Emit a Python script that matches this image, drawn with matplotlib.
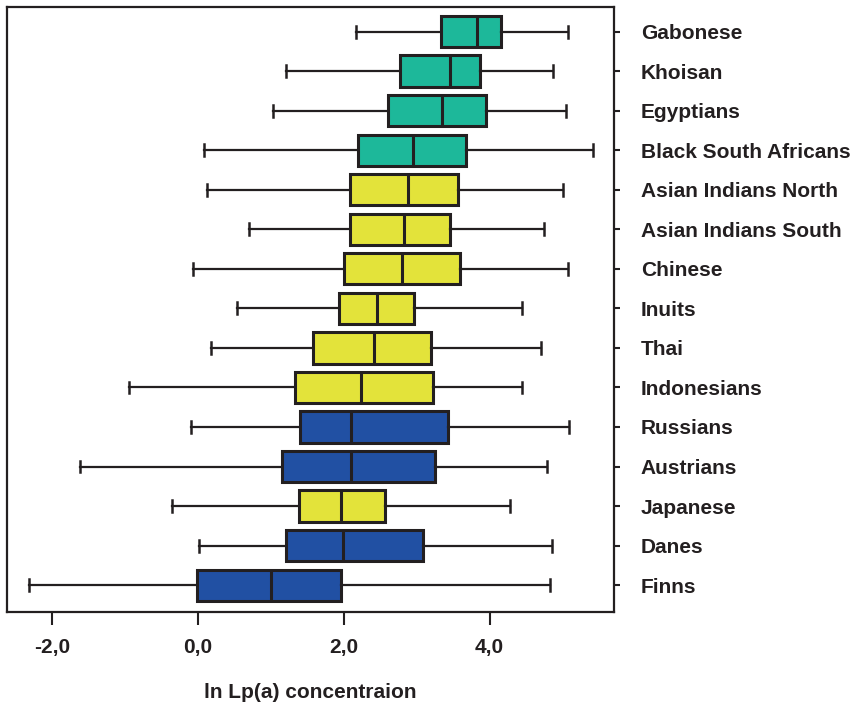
import matplotlib
matplotlib.use("Agg")
import matplotlib.pyplot as plt

plt.rcParams["font.family"] = ["Liberation Sans", "DejaVu Sans"]
plt.rcParams["font.weight"] = "bold"

# bottom to top
groups = ["Finns", "Danes", "Japanese", "Austrians", "Russians", "Indonesians",
          "Thai", "Inuits", "Chinese", "Asian Indians South", "Asian Indians North",
          "Black South Africans", "Egyptians", "Khoisan", "Gabonese"]
whislo = [-2.31, 0.01, -0.36, -1.61, -0.10, -0.94, 0.18, 0.54, -0.06, 0.70, 0.13, 0.09, 1.03, 1.21, 2.17]
q1 = [-0.01, 1.21, 1.39, 1.15, 1.40, 1.33, 1.58, 1.94, 2.00, 2.09, 2.08, 2.20, 2.60, 2.77, 3.33]
med = [1.00, 1.99, 1.96, 2.10, 2.10, 2.23, 2.41, 2.45, 2.80, 2.83, 2.88, 2.95, 3.34, 3.46, 3.83]
q3 = [1.96, 3.09, 2.57, 3.25, 3.43, 3.22, 3.20, 2.96, 3.60, 3.45, 3.56, 3.67, 3.95, 3.87, 4.15]
whishi = [4.83, 4.86, 4.28, 4.78, 5.09, 4.44, 4.70, 4.44, 5.08, 4.75, 5.01, 5.41, 5.05, 4.87, 5.08]
region = ["eu", "eu", "as", "eu", "eu", "as", "as", "as", "as", "as", "as", "af", "af", "af", "af"]

colors = {"eu": "#2150a3", "as": "#e3e33a", "af": "#1db89a"}
dark = "#231f20"

stats = [dict(whislo=a, q1=b, med=c, q3=d, whishi=e, fliers=[])
         for a, b, c, d, e in zip(whislo, q1, med, q3, whishi)]

fig = plt.figure(figsize=(8.57, 7.06), dpi=100)
ax = fig.add_axes([0.0078, 0.1331, 0.7083, 0.8569])

bp = ax.bxp(stats, positions=range(len(groups)), vert=False, widths=0.79,
            patch_artist=True, capwidths=0.30,
            boxprops=dict(edgecolor=dark, linewidth=2.2),
            medianprops=dict(color=dark, linewidth=2.2),
            whiskerprops=dict(color=dark, linewidth=1.6),
            capprops=dict(color=dark, linewidth=1.8))
for box, r in zip(bp["boxes"], region):
    box.set_facecolor(colors[r])

ax.set_xlim(-2.62, 5.70)
ax.set_ylim(-0.68, 14.62)
ax.set_xticks([-2, 0, 2, 4])
ax.set_xticklabels(["-2,0", "0,0", "2,0", "4,0"])
ax.set_yticks(range(len(groups)))
ax.set_yticklabels(groups)
ax.yaxis.tick_right()
ax.tick_params(axis="y", length=4.5, width=1.5, pad=15, labelsize=15, colors=dark)
ax.tick_params(axis="x", length=9.5, width=1.5, pad=9, labelsize=15, colors=dark)
for s in ax.spines.values():
    s.set_linewidth(1.6)
    s.set_color(dark)

ax.set_xlabel("ln Lp(a) concentraion", fontsize=15, fontweight="bold", color=dark, labelpad=19)

fig.savefig("out.png", dpi=100)
